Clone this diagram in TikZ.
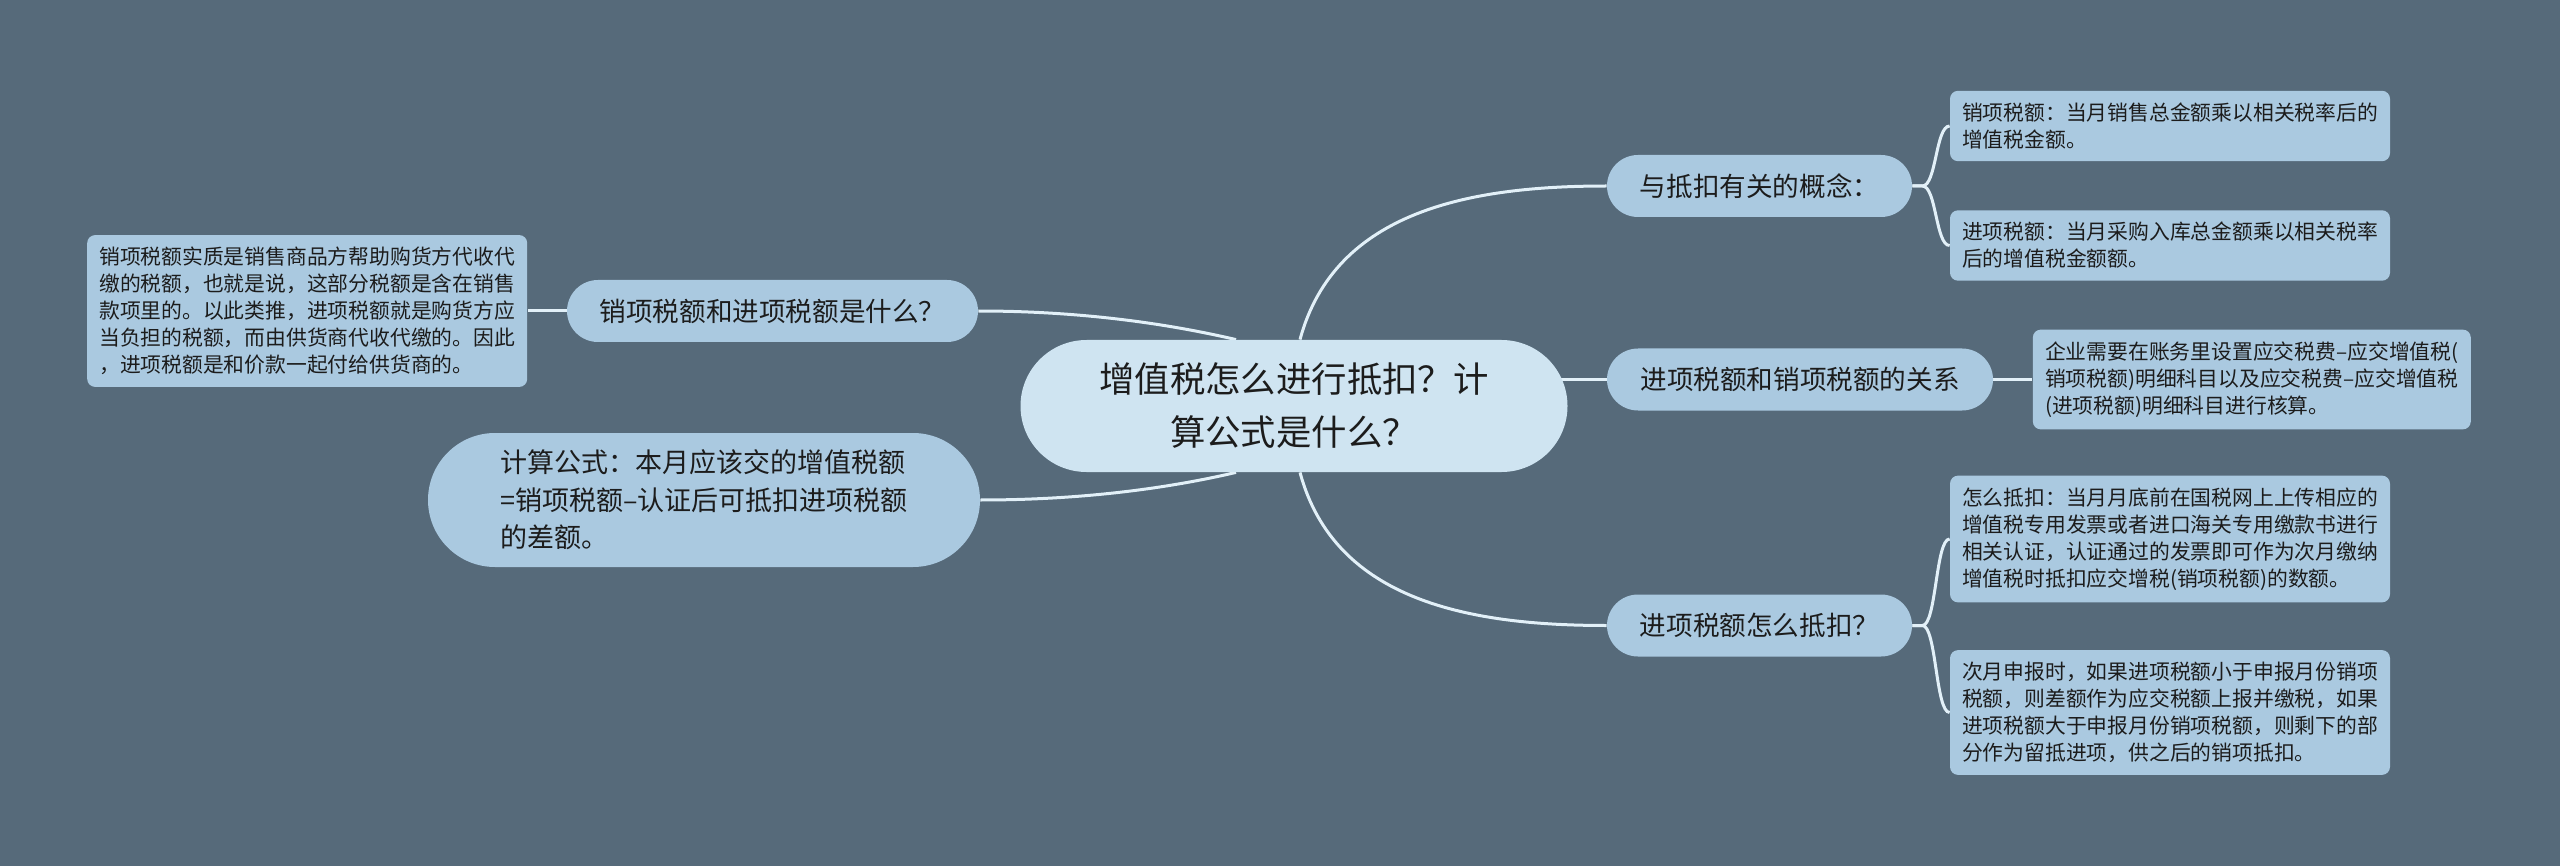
\documentclass[tikz,border=0pt]{standalone}
\usepackage{fontspec}
\setmainfont{Noto Sans CJK SC}
\usepackage{xcolor}
\usetikzlibrary{calc,positioning}
\definecolor{slate}{RGB}{86,106,122}
\definecolor{paleblue}{RGB}{170,201,224}
\definecolor{iceblue}{RGB}{207,228,241}
\definecolor{inkgray}{RGB}{28,28,28}
\definecolor{wirecol}{RGB}{226,240,248}
\pgfdeclarelayer{bg}
\pgfdeclarelayer{edges}
\pgfsetlayers{bg,edges,main}
\tikzset{
  hub/.style={ % the central question
    rectangle, rounded corners=33pt, fill=iceblue, text=inkgray,
    minimum width=273.5pt, minimum height=66pt, inner sep=0pt,
    align=center, font=\fontsize{17.7}{26.5}\selectfont
  },
  branch/.style={ % first-level topic
    rectangle, rounded corners=15.5pt, fill=paleblue, text=inkgray,
    minimum height=31pt, inner sep=0pt,
    font=\fontsize{13.3}{18.8}\selectfont
  },
  note/.style={ % leaf text box
    rectangle, rounded corners=4pt, fill=paleblue, text=inkgray,
    minimum width=220pt, inner xsep=5pt, inner ysep=6pt, align=left,
    font=\fontsize{10.4}{13.5}\selectfont
  },
  link/.style={
    draw=wirecol, line width=1.5pt
  }
}
\begin{document}
\begin{tikzpicture}[x=0.5pt, y=-0.5pt]
  \useasboundingbox (0,0) rectangle (2560,866);
  \begin{pgfonlayer}{bg}
    \fill[slate] (0,0) rectangle (2560,866);
  \end{pgfonlayer}

  \node[hub] (hub) at (1294,406) {增值税怎么进行抵扣？计\\算公式是什么？};

  % left side
  \node[branch, minimum width=205.5pt] (what) at (772.5,311) {销项税额和进项税额是什么？};
  \node[note, left=19.5pt of what] (what_note) {销项税额实质是销售商品方帮助购货方代收代\\缴的税额，也就是说，这部分税额是含在销售\\款项里的。以此类推，进项税额就是购货方应\\当负担的税额，而由供货商代收代缴的。因此\\，进项税额是和价款一起付给供货商的。};
  \node[branch, minimum width=276pt, minimum height=67pt, rounded corners=33.5pt,
        align=left, font=\fontsize{13.5}{18.8}\selectfont] (formula) at (704,500)
        {计算公式：本月应该交的增值税额\\=销项税额–认证后可抵扣进项税额\\的差额。};

  % right side
  \node[branch, minimum width=152.5pt] (concept) at (1759.5,186) {与抵扣有关的概念：};
  \node[branch, minimum width=193pt] (relation) at (1800,379.5) {进项税额和销项税额的关系};
  \node[branch, minimum width=152.5pt] (deduct) at (1759.5,625.5) {进项税额怎么抵扣？};
  \node[note] (out_note) at (2170,126) {销项税额：当月销售总金额乘以相关税率后的\\增值税金额。};
  \node[note] (in_note) at (2170,245.5) {进项税额：当月采购入库总金额乘以相关税率\\后的增值税金额额。};
  \node[note, minimum width=219pt, right=19.5pt of relation] (ledger_note) {企业需要在账务里设置应交税费–应交增值税(\\销项税额)明细科目以及应交税费–应交增值税\\(进项税额)明细科目进行核算。};
  \node[note] (how_note) at (2170,539) {怎么抵扣：当月月底前在国税网上上传相应的\\增值税专用发票或者进口海关专用缴款书进行\\相关认证，认证通过的发票即可作为次月缴纳\\增值税时抵扣应交增税(销项税额)的数额。};
  \node[note] (next_note) at (2170,712.5) {次月申报时，如果进项税额小于申报月份销项\\税额，则差额作为应交税额上报并缴税，如果\\进项税额大于申报月份销项税额，则剩下的部\\分作为留抵进项，供之后的销项抵扣。};

  \begin{pgfonlayer}{edges}
    \draw[link] ($(hub.north)+(6,0)$) .. controls +(35,-130) and +(-134,0) .. (concept.west);
    \draw[link] (hub.center |- relation.west) -- (relation.west);
    \draw[link] ($(hub.south)+(6,0)$) .. controls +(35,130) and +(-134,0) .. (deduct.west);
    \draw[link] ($(hub.north)+(-58,0)$) .. controls +(-60,-14) and +(110,0) .. (what.east);
    \draw[link] ($(hub.south)+(-58,0)$) .. controls +(-60,14) and +(110,0) .. (formula.east);
    \draw[link] (what.west) -- (what_note.east);
    \draw[link] (relation.east) -- (ledger_note.west);
    \draw[link] (concept.east) -- ++(10,0) .. controls +(14,0) and +(-14,0) .. (out_note.west);
    \draw[link] (concept.east) -- ++(10,0) .. controls +(14,0) and +(-14,0) .. (in_note.west);
    \draw[link] (deduct.east) -- ++(10,0) .. controls +(14,0) and +(-14,0) .. (how_note.west);
    \draw[link] (deduct.east) -- ++(10,0) .. controls +(14,0) and +(-14,0) .. (next_note.west);
  \end{pgfonlayer}
\end{tikzpicture}
\end{document}
